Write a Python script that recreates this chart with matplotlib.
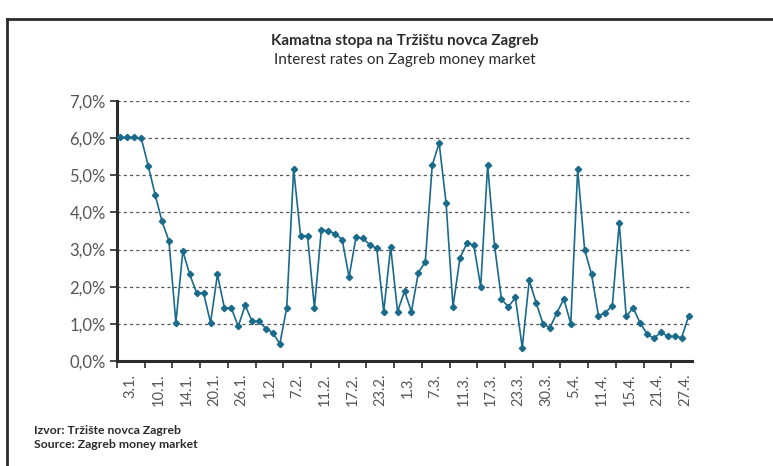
import matplotlib
matplotlib.use("Agg")
import matplotlib.pyplot as plt
from matplotlib.lines import Line2D

plt.rcParams['font.family'] = ['Lato', 'DejaVu Sans']

# kamatna stopa (%) - dnevni podaci
rates = [6.02, 6.02, 6.02, 6.0, 5.26, 4.48, 3.76, 3.23, 1.03, 2.96,
         2.33, 1.83, 1.83, 1.03, 2.33, 1.43, 1.43, 0.93, 1.5, 1.07,
         1.07, 0.87, 0.76, 0.46, 1.43, 5.16, 3.37, 3.37, 1.43, 3.54,
         3.49, 3.43, 3.27, 2.26, 3.34, 3.30, 3.13, 3.03, 1.33, 3.07,
         1.33, 1.88, 1.33, 2.38, 2.67, 5.27, 5.87, 4.26, 1.46, 2.77,
         3.17, 3.12, 2.0, 5.27, 3.10, 1.66, 1.46, 1.71, 0.36, 2.17,
         1.57, 1.0, 0.90, 1.30, 1.67, 1.0, 5.16, 3.0, 2.33, 1.22,
         1.30, 1.49, 3.72, 1.20, 1.43, 1.03, 0.73, 0.61, 0.77, 0.67,
         0.66, 0.63, 1.20]

date_labels = ['3.1.', '10.1.', '14.1.', '20.1.', '26.1.', '1.2.', '7.2.',
               '11.2.', '17.2.', '23.2.', '1.3.', '7.3.', '11.3.', '17.3.',
               '23.3.', '30.3.', '5.4.', '11.4.', '15.4.', '21.4.', '27.4.']

y_ticks = [0, 1, 2, 3, 4, 5, 6, 7]

line_color = '#1a6a8c'
dark = '#2b2b2b'
label_gray = '#555555'

fig = plt.figure(figsize=(7.73, 4.66), dpi=100)

# okvir
fig.add_artist(Line2D([7 / 773, 7 / 773], [0, 1 - 19 / 466], transform=fig.transFigure, color=dark, lw=2))
fig.add_artist(Line2D([7 / 773, 1], [1 - 19 / 466, 1 - 19 / 466], transform=fig.transFigure, color=dark, lw=2))

ax = fig.add_axes([117 / 773, 1 - 361 / 466, 575 / 773, 260 / 466])

x = list(range(len(rates)))
ax.plot(x, rates, color=line_color, lw=1.2, marker='D', markersize=3.2, zorder=3)

ax.set_xlim(-0.5, len(rates) - 0.5)
ax.set_ylim(0, 7)

ax.set_yticks(y_ticks)
ax.set_yticklabels(['%d,0%%' % v for v in y_ticks], fontsize=12, color=label_gray)
ax.yaxis.grid(True, linestyle=(0, (2.5, 2.5)), color='#555555', lw=0.9)
ax.set_axisbelow(True)

major = [-0.5 + 4 * k for k in range(len(date_labels))]
ax.set_xticks(major)
ax.set_xticklabels([])
ax.set_xticks([1.5 + 4 * k for k in range(len(date_labels))], minor=True)
ax.set_xticklabels(date_labels, minor=True, rotation=90, fontsize=10.5, color=label_gray)
ax.tick_params(axis='x', which='minor', length=0, pad=9)
ax.tick_params(axis='x', which='major', length=5, width=1.2, color=dark)
ax.tick_params(axis='y', length=5, width=1.2, color=dark, pad=3)

for s in ['top', 'right']:
    ax.spines[s].set_visible(False)
for s in ['left', 'bottom']:
    ax.spines[s].set_color(dark)
    ax.spines[s].set_linewidth(2.2)

fig.text(405 / 773, 1 - 41 / 466, 'Kamatna stopa na Tržištu novca Zagreb', ha='center', va='center',
         fontsize=11, fontweight='bold', color=dark)
fig.text(405 / 773, 1 - 60 / 466, 'Interest rates on Zagreb money market', ha='center', va='center',
         fontsize=11, color=dark)

fig.text(34 / 773, 1 - 430 / 466, 'Izvor: Tržište novca Zagreb', ha='left', va='center',
         fontsize=8.8, fontweight='bold', color=dark)
fig.text(34 / 773, 1 - 445 / 466, 'Source: Zagreb money market', ha='left', va='center',
         fontsize=8.8, fontweight='bold', color=dark)

fig.savefig('out.png', dpi=100)
